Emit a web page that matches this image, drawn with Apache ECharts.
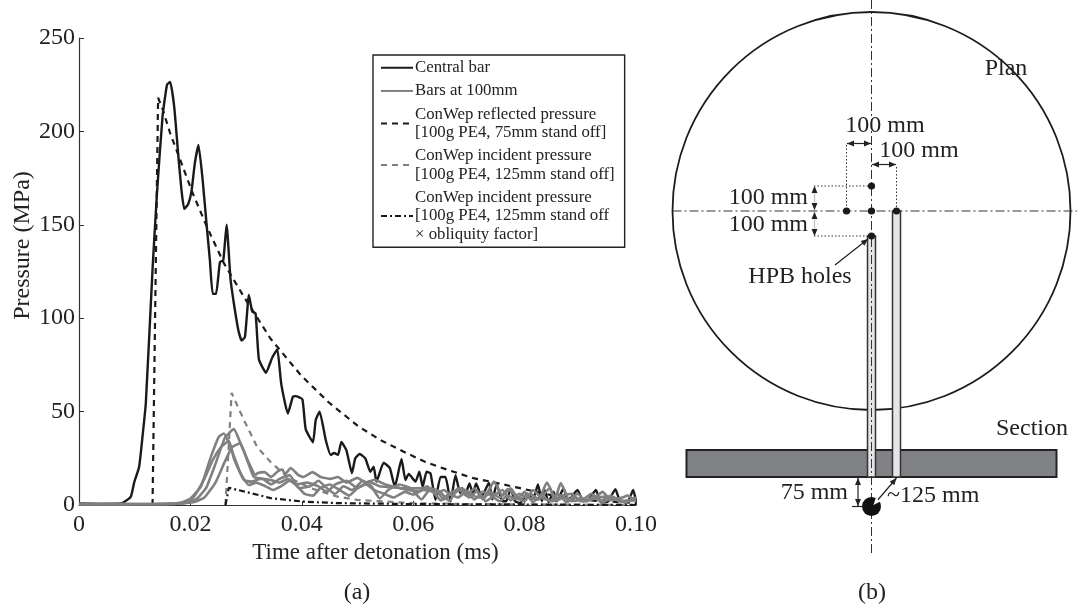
<!DOCTYPE html>
<html><head><meta charset="utf-8">
<style>html,body{margin:0;padding:0;background:#fff}#c{width:1077px;height:610px}</style>
<script src="https://cdn.jsdelivr.net/npm/echarts@6/dist/echarts.min.js"></script>
</head><body><div id="c"></div>
<script>
const SERIF = '"Liberation Serif","Times New Roman",serif';
const xTicks = ['0','0.02','0.04','0.06','0.08','0.10'];
const centralBar = [[0,0.8],[0.004,0.6],[0.0075,0.8],[0.0081,1.6],[0.0093,4.4],[0.0099,12],[0.0108,20.5],[0.0114,36.6],[0.012,54.6],[0.0132,126],[0.014,167],[0.015,208],[0.0158,225],[0.01637,226.5],[0.0171,213],[0.0178,188],[0.0184,168.6],[0.0189,158.5],[0.0196,161],[0.0202,168],[0.0208,183],[0.02145,192.7],[0.0222,174],[0.02294,149],[0.0235,131],[0.024,113],[0.0246,113],[0.0253,130],[0.0259,131],[0.0265,150],[0.0272,121],[0.0278,108],[0.0286,93.7],[0.0292,88],[0.0298,90],[0.0305,112.4],[0.0311,103.5],[0.0317,102.6],[0.0323,78],[0.03357,70.8],[0.0347,79],[0.0356,83.3],[0.0363,65],[0.0375,49],[0.0384,58],[0.0389,58.3],[0.0401,56.6],[0.0407,40.6],[0.042,33.6],[0.0425,45.5],[0.0432,50],[0.0443,34.8],[0.0452,26.8],[0.0458,27.8],[0.0465,26.8],[0.0471,33.7],[0.048,29.4],[0.049,17],[0.0496,25],[0.0504,27.3],[0.0514,25],[0.0523,17.8],[0.0529,20.5],[0.0534,12.5],[0.0547,22.6],[0.0558,19.8],[0.0567,9.8],[0.0579,24.6],[0.0586,13.4],[0.0592,16.6],[0.0604,12.5],[0.0611,17.8],[0.0617,9.8],[0.0624,17.8],[0.0631,17],[0.064,2.7],[0.0649,15],[0.0658,15],[0.0667,1.8],[0.0676,16],[0.0684,6.4],[0.0688,9],[0.0694,6],[0.0701,11.6],[0.0707,6],[0.0713,11.6],[0.0723,4.4],[0.0736,12],[0.0742,3],[0.075,11],[0.076,2],[0.0767,2],[0.0775,8.5],[0.0783,2],[0.0792,1],[0.0805,6],[0.0815,3],[0.0824,11],[0.0831,2],[0.0836,8],[0.0843,1.5],[0.0852,7],[0.0858,2],[0.087,9],[0.0878,2],[0.0895,8],[0.0905,2],[0.0915,3],[0.0928,8],[0.0937,1.5],[0.095,2],[0.0963,8.5],[0.0972,2],[0.0985,2],[0.0995,8],[0.1,2]];
const barA = [[0,0.5],[0.012,0.5],[0.018,1],[0.02,3.5],[0.0219,10],[0.0237,26],[0.0251,36.5],[0.026,38.3],[0.0272,31],[0.029,17],[0.0305,10.7],[0.0318,12],[0.0335,10],[0.0348,8],[0.0365,10.5],[0.0378,13],[0.0392,10],[0.0405,6],[0.042,5],[0.0433,9],[0.045,11],[0.0468,8],[0.0485,5],[0.05,9],[0.0515,11],[0.053,8],[0.0548,6],[0.0565,4],[0.0585,7],[0.06,5.5],[0.0618,8],[0.0635,7],[0.065,2.5],[0.0665,6],[0.068,4],[0.0695,7],[0.071,3],[0.0725,7],[0.074,5],[0.0755,2],[0.077,5],[0.0785,3],[0.08,7],[0.0815,1.5],[0.083,5],[0.0845,2],[0.086,6],[0.0875,1.5],[0.089,4],[0.091,2],[0.0925,5],[0.094,1.5],[0.096,4],[0.098,1.5],[0.1,4]];
const barB = [[0,0.4],[0.014,0.5],[0.019,1],[0.021,3],[0.0228,9],[0.0245,22],[0.0262,36],[0.0278,40.6],[0.029,33],[0.0305,22.5],[0.0317,16],[0.032,17],[0.0333,17.6],[0.0345,15],[0.0356,17.8],[0.0365,19],[0.037,16.5],[0.038,19.8],[0.0394,16],[0.0403,15],[0.0419,17.6],[0.0434,15],[0.045,14],[0.0465,15],[0.048,12],[0.05,14.5],[0.0515,12],[0.053,13.5],[0.055,11],[0.057,9.5],[0.059,8],[0.061,7.5],[0.0625,10],[0.064,6],[0.0655,8],[0.067,5],[0.0685,9],[0.07,7],[0.0715,4],[0.073,5],[0.0745,12.5],[0.076,5],[0.0775,9],[0.079,3],[0.081,6],[0.0825,3],[0.0845,9],[0.0855,2],[0.087,4],[0.0885,2],[0.0905,3],[0.092,6],[0.0935,2],[0.0955,5],[0.097,2],[0.1,3]];
const barC = [[0,0.6],[0.013,0.5],[0.0185,1.2],[0.0205,4],[0.0225,14],[0.024,24],[0.0255,31],[0.0269,34.4],[0.0278,25],[0.0296,13.4],[0.031,12.5],[0.0325,14],[0.0344,13.4],[0.036,12],[0.0375,14],[0.039,11],[0.041,12],[0.043,10],[0.0445,7],[0.046,11],[0.048,13],[0.05,9],[0.052,12.5],[0.054,10],[0.056,9.5],[0.058,9],[0.06,9],[0.062,9],[0.064,8],[0.0655,3],[0.067,7],[0.0685,8.5],[0.07,4],[0.0715,7.5],[0.073,2],[0.0745,5],[0.076,8],[0.0775,2.5],[0.079,6],[0.0805,4],[0.0825,3],[0.084,12],[0.0855,4],[0.0865,11.7],[0.088,3],[0.0895,6],[0.091,2],[0.0925,3.5],[0.094,7],[0.0955,2.5],[0.0975,4],[0.0985,5],[0.1,2]];
const barD = [[0,0.4],[0.016,0.5],[0.0205,1.5],[0.0225,4],[0.0245,12],[0.026,22],[0.0275,31],[0.0289,33],[0.0302,24],[0.0314,15],[0.033,14],[0.0345,11],[0.036,14],[0.0378,16],[0.0395,9],[0.0415,10],[0.043,13],[0.0445,9],[0.046,6],[0.0475,10],[0.049,8],[0.051,13],[0.0525,10],[0.054,3.5],[0.0555,8],[0.0575,11],[0.0595,9],[0.0615,3],[0.0632,9],[0.0648,7],[0.0665,2],[0.068,9],[0.0695,5],[0.071,9],[0.0725,3],[0.0738,7],[0.0755,4],[0.077,8.5],[0.0785,4.5],[0.08,2],[0.0815,8],[0.083,4],[0.085,2],[0.0865,5],[0.0885,6],[0.09,2],[0.0915,2.5],[0.093,4],[0.095,4.5],[0.0965,3],[0.098,2],[0.1,2.5]];
const conWepReflected = [[0.0132,0],[0.0142,218],[0.015,212],[0.01637,199],[0.0189,179],[0.0204,167],[0.0231,148],[0.026,129.5],[0.0296,111.5],[0.0344,89],[0.0398,69.6],[0.0448,55],[0.0502,42],[0.0541,34.8],[0.0583,28.5],[0.0622,23],[0.0663,18.7],[0.0708,14.4],[0.075,11.8],[0.0792,9],[0.0846,5.4],[0.0905,2.7],[0.1,1]];
const conWepIncident = [[0.0263,0],[0.0274,60],[0.0296,45.5],[0.032,31],[0.0344,23],[0.0374,15],[0.0416,9],[0.0464,4.5],[0.05,2.7],[0.06,1],[0.07,0.5],[0.1,0]];
const conWepOblique = [[0.0263,0],[0.0269,9.2],[0.0308,6.4],[0.0344,3.7],[0.0403,1.8],[0.0464,1],[0.06,0.5],[0.1,0]];
const legendNames = ['Central bar','Bars at 100mm','ConWep reflected pressure\n[100g PE4, 75mm stand off]','ConWep incident pressure\n[100g PE4, 125mm stand off]','ConWep incident pressure\n[100g PE4, 125mm stand off\n× obliquity factor]'];

// schematic (b), in schematic units: origin at the centre hole, 100 mm spacing = 100 units
const holes = [[-100,0],[0,0],[100,0],[0,100],[0,-100]];
const planRadius = 796;
const centreLines = [[[0,844],[0,-1376]],[[-796,0],[822,0]]];
const dottedGuides = [[[-100,264],[-100,0]],[[100,176],[100,0]],[[-230,100],[0,100]],[[-230,-100],[0,-100]]];
const probeBars = [[-16,-100,16,-1064],[84,0,116,-1064]];
const slab = [-740,-956,740,-1064];
const chargeCentre = [0,-1182], chargeRadius = 38;
const dimArrows = [[-98,270,-2,270],[2,186,98,186],[-228,100,-228,4],[-228,-4,-228,-100],[-54,-1068,-54,-1180],[100,-1068,8,-1176]];
const leaderArrow = [-146,-216,-14,-112];
const dimTick = [[-78,-1182],[-24,-1182]];
const schematicTexts = [
  ['Plan',1006,69,'center'],['100 mm',885,126,'center'],['100 mm',919,151,'center'],
  ['100 mm',808,197.5,'right'],['100 mm',808,224.5,'right'],['HPB holes',800,277,'center'],
  ['Section',1032,429,'center'],['75 mm',848,493,'right'],['~125 mm',887,496,'left'],['(b)',872,593,'center']
];

function head(tip, from, color) {
  const a = Math.atan2(tip[1]-from[1], tip[0]-from[0]), L = 7, W = 3;
  const bx = tip[0]-L*Math.cos(a), by = tip[1]-L*Math.sin(a);
  return {type:'polygon',shape:{points:[tip,[bx-W*Math.sin(a),by+W*Math.cos(a)],[bx+W*Math.sin(a),by-W*Math.cos(a)]]},style:{fill:color}};
}
function renderSchematic(params, api) {
  const p = (x,y)=>api.coord([x,y]);
  const els = [];
  const line = (a,b,stroke,w,dash)=>els.push({type:'line',shape:{x1:a[0],y1:a[1],x2:b[0],y2:b[1]},style:{stroke,lineWidth:w,lineDash:dash||null,fill:null}});
  const c0 = p(0,0), c1 = p(planRadius,0), pxR = c1[0]-c0[0];
  els.push({type:'circle',shape:{cx:c0[0],cy:c0[1],r:pxR},style:{stroke:'#1c1c1c',lineWidth:1.8,fill:'#fff'}});
  const s0 = p(slab[0],slab[1]), s1 = p(slab[2],slab[3]);
  els.push({type:'rect',shape:{x:s0[0],y:s0[1],width:s1[0]-s0[0],height:s1[1]-s0[1]},style:{fill:'#808285',stroke:'#222',lineWidth:2}});
  probeBars.forEach(b=>{const a=p(b[0],b[1]),d=p(b[2],b[3]);
    els.push({type:'rect',shape:{x:a[0],y:a[1],width:d[0]-a[0],height:d[1]-a[1]},style:{fill:'#e4e5e6',stroke:'#333',lineWidth:1.5}});});
  centreLines.forEach(l=>line(p(l[0][0],l[0][1]),p(l[1][0],l[1][1]),'#333',1,[9,3,2,3]));
  dottedGuides.forEach(l=>line(p(l[0][0],l[0][1]),p(l[1][0],l[1][1]),'#333',1,[1.5,2]));
  holes.forEach(h=>{const c=p(h[0],h[1]);els.push({type:'circle',shape:{cx:c[0],cy:c[1],r:3.6},style:{fill:'#1a1a1a'}});});
  const ch = p(chargeCentre[0],chargeCentre[1]);
  els.push({type:'circle',shape:{cx:ch[0],cy:ch[1],r:chargeRadius/4},style:{fill:'#111'}});
  dimArrows.forEach((d,i)=>{const a=p(d[0],d[1]),b=p(d[2],d[3]);
    const isGrey = i===2||i===3;
    line(a,b,isGrey?'#c8c8c8':'#222',isGrey?1.5:1.2);
    els.push(head(a,b,'#222'),head(b,a,i===5?'#fff':'#222'));});
  {const a=p(leaderArrow[0],leaderArrow[1]),b=p(leaderArrow[2],leaderArrow[3]);line(a,b,'#222',1.2);els.push(head(b,a,'#222'));}
  line(p(dimTick[0][0],dimTick[0][1]),p(dimTick[1][0],dimTick[1][1]),'#222',1.2);
  schematicTexts.forEach(t=>{
    const x=p((t[1]-871.5)*4,0)[0], y=p(0,(211-t[2])*4)[1];
    els.push({type:'text',x,y,style:{text:t[0],fontFamily:SERIF,fontSize:24,fill:'#222',align:t[3],verticalAlign:'middle'}});});
  return {type:'group',children:els};
}

const lineSeries = (name,data,color,width,dash,z)=>({type:'line',name,data,xAxisIndex:0,yAxisIndex:0,showSymbol:false,symbol:'none',smooth:dash?false:0.15,z:z,clip:false,
  lineStyle:{color,width,type:dash||'solid'},itemStyle:{color}});
const GREY='#808080', BLACK='#1a1a1a';

const chart = echarts.init(document.getElementById('c'),null,{renderer:'canvas'});
chart.setOption({
  animation:false,backgroundColor:'#fff',
  grid:[{left:79,right:441,top:38,bottom:105,containLabel:false,outerBoundsMode:'none'},{left:671.5,width:405.5,top:0,height:600,containLabel:false,outerBoundsMode:'none'}],
  xAxis:[{type:'value',gridIndex:0,min:0,max:0.1,interval:0.02,
    name:'Time after detonation (ms)',nameLocation:'middle',nameGap:33,nameTextStyle:{fontFamily:SERIF,fontSize:23,color:'#222',padding:[0,0,0,36]},
    axisLine:{show:true,onZero:false,lineStyle:{color:'#333',width:1.2}},axisTick:{show:true,inside:true,length:4,lineStyle:{color:'#333'}},splitLine:{show:false},
    axisLabel:{fontFamily:SERIF,fontSize:24,color:'#222',margin:8,formatter:(v)=>xTicks[Math.round(v/0.02)],hideOverlap:false}},
    {type:'value',gridIndex:1,min:-800,max:822,show:false}],
  yAxis:[{type:'value',gridIndex:0,min:0,max:250,interval:50,
    name:'Pressure (MPa)',nameLocation:'middle',nameGap:44,nameMoveOverlap:false,nameTextStyle:{fontFamily:SERIF,fontSize:24,color:'#222',padding:[0,0,0,52]},
    axisLine:{show:true,lineStyle:{color:'#333',width:1.2}},axisTick:{show:true,inside:true,length:5,lineStyle:{color:'#333'}},splitLine:{show:false},
    axisLabel:{fontFamily:SERIF,fontSize:24,color:'#222',margin:4}},
    {type:'value',gridIndex:1,min:-1556,max:844,show:false}],
  legend:{show:true,data:legendNames,orient:'vertical',left:373,top:55,padding:[3.5,10,3.5,7],itemGap:4.7,itemWidth:32,itemHeight:10,
    backgroundColor:'#fff',borderColor:'#222',borderWidth:1.4,borderRadius:0,z:20,selectedMode:false,
    itemStyle:{opacity:0},
    textStyle:{fontFamily:SERIF,fontSize:16.8,color:'#222',lineHeight:18.5,padding:[0,0,0,-3]}},
  graphic:[{type:'text',x:357,y:593,style:{text:'(a)',fontFamily:SERIF,fontSize:24,fill:'#222',align:'center',verticalAlign:'middle'}}],
  series:[
    lineSeries(legendNames[2],conWepReflected,BLACK,2.2,[6,5],3),
    lineSeries(legendNames[3],conWepIncident,GREY,2.2,[6,5],3),
    lineSeries(legendNames[4],conWepOblique,BLACK,2.2,[6,3,2,3],3),
    lineSeries(legendNames[0],centralBar,BLACK,2.4,null,4),
    lineSeries(legendNames[1],barA,GREY,2.6,null,5),
    lineSeries(legendNames[1],barB,GREY,2.6,null,5),
    lineSeries(legendNames[1],barC,GREY,2.6,null,5),
    lineSeries(legendNames[1],barD,GREY,2.6,null,5),
    {type:'custom',xAxisIndex:1,yAxisIndex:1,coordinateSystem:'cartesian2d',data:[[0,0]],renderItem:renderSchematic,clip:false,silent:true,z:1}
  ]
});
</script></body></html>
